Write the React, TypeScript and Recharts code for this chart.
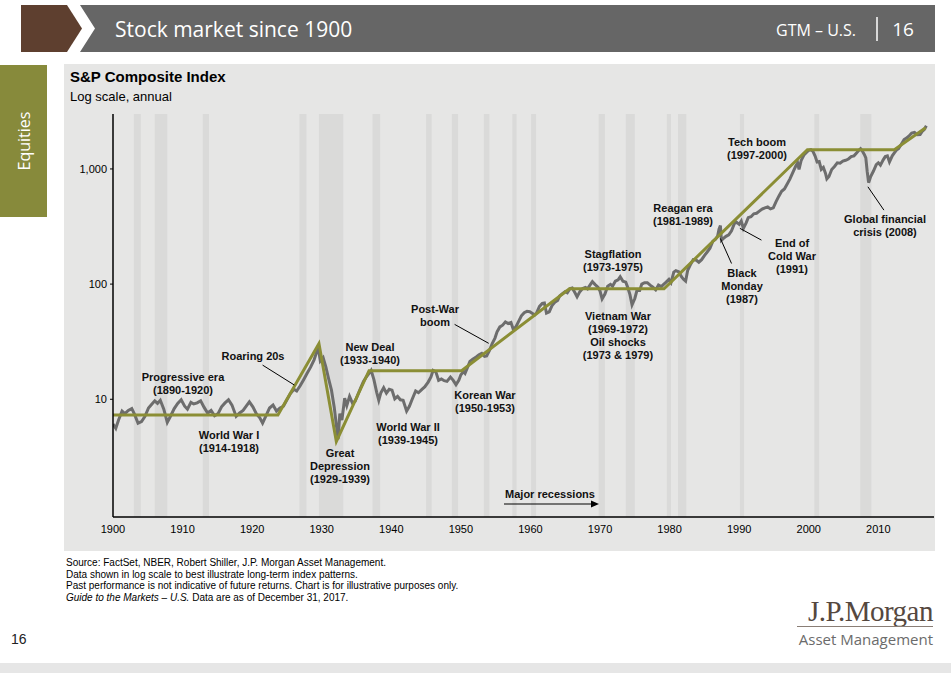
import React from 'react';
import { ComposedChart, Line, XAxis, YAxis, ReferenceArea, ReferenceLine } from 'recharts';

// S&P composite index (year, index level)
const spIndex: [number, number][] = [
  [1900.0, 6.1], [1900.4, 5.6], [1900.8, 6.6], [1901.3, 7.9], [1901.7, 7.5], [1902.2, 8.0], [1902.7, 8.3],
  [1903.1, 7.4], [1903.6, 6.2], [1904.1, 6.4], [1904.6, 7.1], [1905.1, 8.4], [1905.6, 9.1], [1906.0, 9.7],
  [1906.4, 9.2], [1906.8, 9.8], [1907.3, 8.2], [1907.8, 6.3], [1908.3, 7.2], [1908.8, 8.3], [1909.3, 9.2],
  [1909.8, 9.9], [1910.3, 8.7], [1910.7, 8.2], [1911.2, 9.4], [1911.6, 9.1], [1912.1, 9.3], [1912.6, 9.7],
  [1913.1, 8.5], [1913.6, 7.6], [1914.1, 8.0], [1914.6, 7.2], [1915.1, 7.5], [1915.6, 8.6], [1916.1, 9.3],
  [1916.6, 9.9], [1917.1, 8.9], [1917.7, 7.1], [1918.2, 7.6], [1918.7, 8.0], [1919.2, 8.8], [1919.6, 9.5],
  [1920.1, 8.6], [1920.6, 7.5], [1921.1, 6.9], [1921.5, 6.2], [1922.0, 7.2], [1922.5, 8.4], [1923.0, 8.9],
  [1923.5, 7.9], [1924.0, 8.4], [1924.5, 8.7], [1925.0, 9.9], [1925.5, 11.2], [1926.0, 12.2], [1926.4, 11.8],
  [1926.9, 13.1], [1927.4, 14.8], [1927.9, 16.8], [1928.4, 19.0], [1928.9, 22.0], [1929.2, 25.0], [1929.5, 28.0],
  [1929.8, 21.5], [1930.2, 23.0], [1930.6, 19.0], [1931.0, 15.0], [1931.4, 12.0], [1931.8, 8.5], [1932.1, 6.0],
  [1932.35, 4.5], [1932.6, 7.5], [1932.9, 6.6], [1933.3, 10.2], [1933.6, 8.8], [1934.0, 10.6], [1934.4, 9.3],
  [1934.8, 9.6], [1935.2, 11.0], [1935.6, 12.6], [1936.0, 14.3], [1936.4, 15.6], [1936.8, 16.8], [1937.1, 17.8],
  [1937.5, 14.8], [1937.9, 11.5], [1938.2, 9.8], [1938.5, 11.4], [1938.9, 12.6], [1939.3, 11.3], [1939.7, 12.2],
  [1940.1, 12.0], [1940.5, 10.1], [1940.9, 10.6], [1941.3, 9.9], [1941.7, 9.8], [1942.2, 7.9], [1942.6, 8.7],
  [1943.0, 10.0], [1943.5, 11.8], [1943.9, 11.4], [1944.4, 12.2], [1944.8, 12.8], [1945.3, 14.1], [1945.7, 15.6],
  [1946.0, 17.8], [1946.4, 17.3], [1946.8, 14.6], [1947.2, 15.0], [1947.6, 14.5], [1948.0, 14.3], [1948.5, 15.6],
  [1948.9, 14.6], [1949.3, 13.4], [1949.7, 14.6], [1950.0, 16.3], [1950.4, 17.4], [1950.6, 16.8], [1951.0, 19.2],
  [1951.3, 21.3], [1951.7, 22.3], [1952.2, 23.3], [1952.6, 24.3], [1953.0, 25.0], [1953.4, 23.6], [1953.7, 23.8],
  [1954.1, 26.5], [1954.5, 30.5], [1954.9, 34.0], [1955.2, 38.5], [1955.6, 42.5], [1956.0, 44.0], [1956.4, 47.0],
  [1956.8, 45.5], [1957.2, 46.5], [1957.5, 41.0], [1957.9, 42.5], [1958.3, 47.5], [1958.7, 53.0], [1959.1, 56.5],
  [1959.5, 58.0], [1959.9, 57.5], [1960.3, 55.5], [1960.6, 54.0], [1960.9, 56.5], [1961.3, 64.0], [1961.7, 68.0],
  [1962.0, 68.5], [1962.3, 56.0], [1962.7, 57.5], [1963.1, 65.0], [1963.5, 69.5], [1963.9, 72.0], [1964.2, 79.0],
  [1964.6, 82.5], [1965.0, 86.0], [1965.3, 84.0], [1965.7, 91.5], [1966.0, 92.5], [1966.4, 84.0], [1966.7, 77.5],
  [1967.1, 86.0], [1967.5, 91.5], [1967.9, 93.5], [1968.2, 91.0], [1968.6, 99.0], [1968.9, 105.0], [1969.3, 99.0],
  [1969.7, 94.0], [1970.0, 87.0], [1970.3, 74.5], [1970.7, 82.0], [1971.1, 96.0], [1971.5, 99.5], [1971.8, 96.0],
  [1972.2, 106.0], [1972.6, 109.0], [1972.9, 116.0], [1973.3, 106.0], [1973.7, 104.0], [1974.0, 93.0],
  [1974.3, 81.0], [1974.6, 66.0], [1975.0, 75.0], [1975.3, 88.0], [1975.7, 88.0], [1976.0, 100.0],
  [1976.4, 103.0], [1976.8, 103.0], [1977.2, 98.0], [1977.6, 94.0], [1978.0, 89.0], [1978.4, 98.0],
  [1978.8, 95.0], [1979.1, 99.0], [1979.5, 104.0], [1979.9, 110.0], [1980.2, 103.0], [1980.6, 127.0],
  [1980.9, 131.0], [1981.3, 128.0], [1981.7, 116.0], [1982.0, 110.0], [1982.3, 106.0], [1982.6, 132.0],
  [1983.0, 148.0], [1983.4, 163.0], [1983.8, 162.0], [1984.2, 155.0], [1984.6, 163.0], [1985.0, 177.0],
  [1985.4, 190.0], [1985.8, 205.0], [1986.2, 235.0], [1986.6, 245.0], [1986.9, 262.0], [1987.1, 300.0],
  [1987.3, 322.0], [1987.45, 240.0], [1987.7, 248.0], [1988.1, 260.0], [1988.5, 268.0], [1988.9, 290.0],
  [1989.3, 335.0], [1989.6, 345.0], [1990.0, 330.0], [1990.3, 352.0], [1990.6, 305.0], [1991.0, 340.0],
  [1991.3, 378.0], [1991.7, 385.0], [1992.1, 408.0], [1992.5, 412.0], [1992.9, 430.0], [1993.3, 448.0],
  [1993.7, 460.0], [1994.1, 468.0], [1994.5, 450.0], [1994.9, 460.0], [1995.3, 520.0], [1995.7, 580.0],
  [1996.1, 640.0], [1996.5, 670.0], [1996.9, 740.0], [1997.3, 820.0], [1997.7, 930.0], [1998.1, 1050.0],
  [1998.4, 1130.0], [1998.6, 990.0], [1998.9, 1180.0], [1999.3, 1320.0], [1999.7, 1400.0], [2000.0, 1450.0],
  [2000.3, 1470.0], [2000.6, 1420.0], [2000.9, 1300.0], [2001.2, 1150.0], [2001.5, 1160.0], [2001.8, 990.0],
  [2002.1, 1030.0], [2002.4, 920.0], [2002.6, 820.0], [2002.9, 860.0], [2003.3, 990.0], [2003.7, 1050.0],
  [2004.1, 1130.0], [2004.5, 1120.0], [2004.9, 1170.0], [2005.3, 1190.0], [2005.7, 1220.0], [2006.1, 1280.0],
  [2006.5, 1300.0], [2006.9, 1380.0], [2007.2, 1450.0], [2007.45, 1500.0], [2007.7, 1430.0], [2008.0, 1330.0],
  [2008.2, 1250.0], [2008.4, 950.0], [2008.6, 760.0], [2008.9, 860.0], [2009.3, 960.0], [2009.7, 1090.0],
  [2010.0, 1130.0], [2010.3, 1080.0], [2010.7, 1200.0], [2011.0, 1280.0], [2011.3, 1300.0], [2011.6, 1150.0],
  [2012.0, 1300.0], [2012.3, 1380.0], [2012.6, 1460.0], [2012.9, 1500.0], [2013.3, 1640.0], [2013.7, 1800.0],
  [2014.1, 1860.0], [2014.5, 1960.0], [2014.8, 2050.0], [2015.2, 2080.0], [2015.6, 1980.0], [2016.0, 1990.0],
  [2016.3, 2120.0], [2016.6, 2200.0], [2016.9, 2370.0],
];

// Trend (era) line
const trendPoints: [number, number][] = [
  [1900, 7.3], [1923.7, 7.3], [1929.6, 30.5], [1932.1, 4.3], [1936.8, 17.7], [1950.1, 17.7],
  [1965.6, 91], [1979.2, 91], [1999.8, 1470], [2012.3, 1470], [2016.8, 2280],
];

// Major recessions (start, end)
const recessions: [number, number][] = [
  [1903.0, 1904.0], [1906.0, 1907.8], [1912.9, 1913.8], [1926.8, 1927.8], [1929.6, 1933.1],
  [1937.3, 1938.4], [1945.0, 1945.8], [1948.7, 1949.6], [1953.3, 1954.1], [1957.4, 1958.0],
  [1960.1, 1960.8], [1969.8, 1970.7], [1973.7, 1975.0], [1979.6, 1980.2], [1981.2, 1982.4],
  [1990.1, 1990.7], [2000.8, 2001.5], [2007.4, 2009.0],
];

const xTicks = [1900, 1910, 1920, 1930, 1940, 1950, 1960, 1970, 1980, 1990, 2000, 2010];
const yTicks = [10, 100, 1000];

// leader lines for annotations: [year, value] -> [year, value]
const leaders: [number, number, number, number][] = [
  [1921.5, 19.8, 1926.06, 13.3],
  [1949.1, 44.7, 1954.0, 30.6],
  [1987.3, 249, 1988.9, 151],
  [1990.1, 305, 1993.2, 241],
  [2008.5, 700, 2010.8, 439],
];

const annotations: { lines: string[]; x: number; y: number }[] = [
  { lines: ['Progressive era', '(1890-1920)'], x: 183, y: 377 },
  { lines: ['Roaring 20s'], x: 253, y: 356 },
  { lines: ['New Deal', '(1933-1940)'], x: 370, y: 347 },
  { lines: ['World War I', '(1914-1918)'], x: 229, y: 435 },
  { lines: ['Great', 'Depression', '(1929-1939)'], x: 340, y: 453 },
  { lines: ['World War II', '(1939-1945)'], x: 408, y: 427 },
  { lines: ['Post-War', 'boom'], x: 435, y: 309 },
  { lines: ['Korean War', '(1950-1953)'], x: 485, y: 395 },
  { lines: ['Stagflation', '(1973-1975)'], x: 613, y: 254 },
  { lines: ['Vietnam War', '(1969-1972)', 'Oil shocks', '(1973 & 1979)'], x: 618, y: 316 },
  { lines: ['Major recessions'], x: 550, y: 494 },
  { lines: ['Reagan era', '(1981-1989)'], x: 683, y: 208 },
  { lines: ['Tech boom', '(1997-2000)'], x: 757, y: 142 },
  { lines: ['Black', 'Monday', '(1987)'], x: 742, y: 273 },
  { lines: ['End of', 'Cold War', '(1991)'], x: 792, y: 243 },
  { lines: ['Global financial', 'crisis (2008)'], x: 885, y: 219 },
];

const footerLines = [
  'Source: FactSet, NBER, Robert Shiller, J.P. Morgan Asset Management.',
  'Data shown in log scale to best illustrate long-term index patterns.',
  'Past performance is not indicative of future returns. Chart is for illustrative purposes only.',
];

const grayData = spIndex.map(([year, v]) => ({ year, v }));
const trendData = trendPoints.map(([year, v]) => ({ year, v }));

const ARIAL = '"Liberation Sans", Arial, sans-serif';

export default function App() {
  return (
    <div style={{ position: 'absolute', left: 0, top: 0, width: 951, height: 673, background: '#fff', overflow: 'hidden', fontFamily: ARIAL }}>
      {/* header */}
      <svg width={951} height={60} style={{ position: 'absolute', left: 0, top: 0 }}>
        <polygon points="21,5 67,5 82,28.5 67,52 21,52" fill="#5e3f2f" />
        <polygon points="80,5 935,5 935,52 80,52 95,28.5" fill="#666666" />
        <text x={115} y={29} dominantBaseline="central" fill="#fff" fontSize={21} fontFamily='"Open Sans", sans-serif'>Stock market since 1900</text>
        <text x={856} y={30} dominantBaseline="central" textAnchor="end" fill="#fff" fontSize={16} fontFamily='"Open Sans", sans-serif'>GTM – U.S.</text>
        <line x1={877} y1={17} x2={877} y2={41} stroke="#fff" strokeWidth={1.5} />
        <text x={903} y={29} dominantBaseline="central" textAnchor="middle" fill="#fff" fontSize={19} fontFamily='"Open Sans", sans-serif'>16</text>
      </svg>
      {/* side tab */}
      <div style={{ position: 'absolute', left: 0, top: 65, width: 47, height: 152, background: '#878a3b' }} />
      <svg width={47} height={152} style={{ position: 'absolute', left: 0, top: 65 }}>
        <text x={0} y={0} transform="translate(24,76) rotate(-90)" textAnchor="middle" dominantBaseline="central" fill="#fff" fontSize={16} fontFamily='"Open Sans", sans-serif'>Equities</text>
      </svg>
      {/* chart panel */}
      <div style={{ position: 'absolute', left: 64, top: 64, width: 871, height: 487, background: '#e6e6e5' }} />
      <div style={{ position: 'absolute', left: 70, top: 68, fontSize: 15, fontWeight: 'bold', color: '#000' }}>S&amp;P Composite Index</div>
      <div style={{ position: 'absolute', left: 70, top: 89, fontSize: 13, color: '#000' }}>Log scale, annual</div>
      <div style={{ position: 'absolute', left: 0, top: 0 }}>
        <ComposedChart width={951} height={673} margin={{ top: 114, right: 17, bottom: 126, left: 63 }}>
          {recessions.map(([a, b], i) => (
            <ReferenceArea key={'r' + i} x1={a} x2={b} fill="#dadad9" fillOpacity={1} stroke="none" ifOverflow="hidden" />
          ))}
          <XAxis
            type="number"
            dataKey="year"
            domain={[1900, 2018]}
            ticks={xTicks}
            allowDataOverflow
            tickLine={false}
            axisLine={{ stroke: '#000', strokeWidth: 1.5 }}
            height={30}
            tick={{ fontSize: 11, fill: '#000', fontFamily: ARIAL }}
          />
          <YAxis
            type="number"
            scale="log"
            domain={[0.95, 3000]}
            allowDataOverflow
            ticks={yTicks}
            width={50}
            tickSize={3}
            tickMargin={3}
            tickLine={{ stroke: '#000' }}
            axisLine={{ stroke: '#000', strokeWidth: 1.5 }}
            tickFormatter={(v: number) => v.toLocaleString('en-US')}
            tick={{ fontSize: 11, fill: '#000', fontFamily: ARIAL }}
          />
          <Line data={grayData} dataKey="v" type="linear" stroke="#6d6d6d" strokeWidth={3} dot={false} isAnimationActive={false} />
          <Line data={trendData} dataKey="v" type="linear" stroke="#8b8e35" strokeWidth={3} dot={false} isAnimationActive={false} />
          {leaders.map(([x1, y1, x2, y2], i) => (
            <ReferenceLine key={'l' + i} segment={[{ x: x1, y: y1 }, { x: x2, y: y2 }]} stroke="#000" strokeWidth={1} ifOverflow="visible" />
          ))}
        </ComposedChart>
      </div>
      {/* annotations */}
      <svg width={951} height={673} style={{ position: 'absolute', left: 0, top: 0, pointerEvents: 'none' }}>
        {annotations.map((a, i) => (
          <text key={i} x={a.x} textAnchor="middle" fontSize={11} fontWeight="bold" fill="#111" fontFamily={ARIAL}>
            {a.lines.map((l, j) => (
              <tspan key={j} x={a.x} y={a.y + j * 13} dominantBaseline="central">{l}</tspan>
            ))}
          </text>
        ))}
        <line x1={504} y1={504} x2={592} y2={504} stroke="#000" strokeWidth={1.2} />
        <polygon points="591,500.5 599,504 591,507.5" fill="#000" />
      </svg>
      {/* footer */}
      <div style={{ position: 'absolute', left: 66, top: 557, fontSize: 10, lineHeight: '11.7px', color: '#000', fontFamily: '"Liberation Sans Narrow", "Liberation Sans", Arial, sans-serif' }}>
        {footerLines.map((l, i) => (<div key={i}>{l}</div>))}
        <div><i>Guide to the Markets – U.S.</i> Data are as of December 31, 2017.</div>
      </div>
      <div style={{ position: 'absolute', left: 11, top: 631, fontSize: 14, color: '#222' }}>16</div>
      {/* logo */}
      <div style={{ position: 'absolute', left: 795, top: 596, width: 138, textAlign: 'right', fontSize: 29, lineHeight: '30px', color: '#55483f', fontFamily: '"Liberation Serif", "DejaVu Serif", serif', letterSpacing: -0.5 }}>J.P.Morgan</div>
      <div style={{ position: 'absolute', left: 797, top: 626, width: 136, height: 1, background: '#8a7e76' }} />
      <div style={{ position: 'absolute', left: 795, top: 630, width: 138, textAlign: 'right', fontSize: 15, lineHeight: '18px', color: '#6b6b6b', fontFamily: '"Open Sans", sans-serif' }}>Asset Management</div>
      {/* bottom strip */}
      <div style={{ position: 'absolute', left: 0, top: 663, width: 951, height: 10, background: '#e6e6e6' }} />
    </div>
  );
}
